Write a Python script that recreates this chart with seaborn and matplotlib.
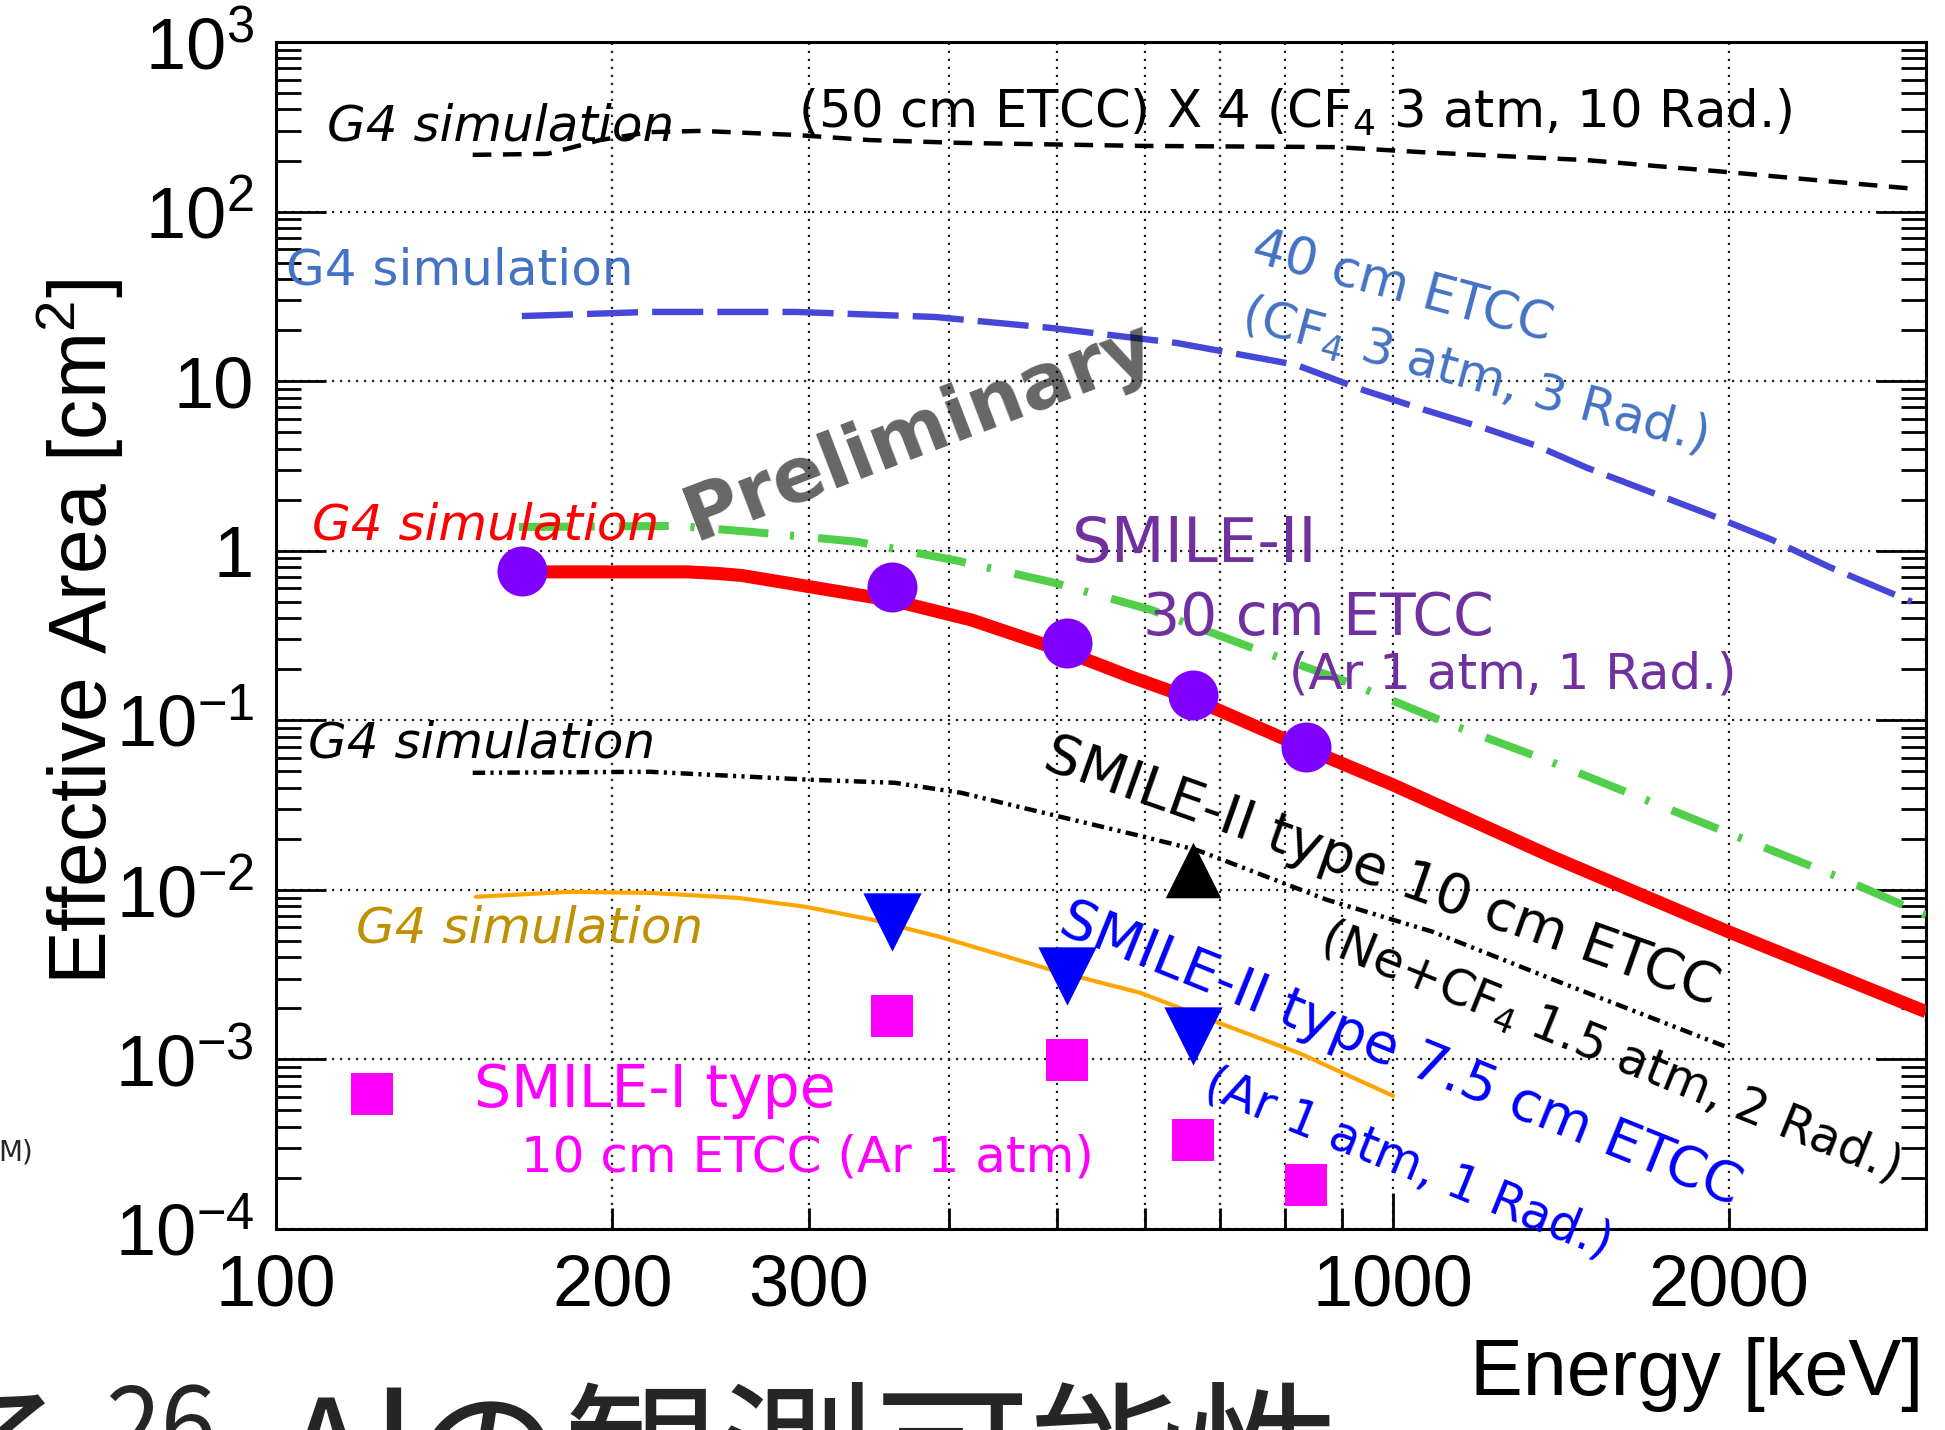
import matplotlib
matplotlib.use("Agg")
import matplotlib.pyplot as plt
import seaborn as sns
from matplotlib.ticker import FixedLocator, FixedFormatter, NullFormatter

# ---------------------------------------------------------------- data
# G4 simulation: (50 cm ETCC) x 4, CF4 3 atm, 10 radiation lengths
etcc50_energy = [150, 175, 195, 216, 240, 292, 340, 411, 594, 889, 1062, 1492, 1992, 2478, 2937]
etcc50_area = [216, 219, 264, 294, 299, 283, 264, 254, 244, 240, 224, 201, 171, 150, 136]

# G4 simulation: 40 cm ETCC, CF4 3 atm, 3 radiation lengths
etcc40_energy = [166, 216, 292, 389, 494, 640, 818, 940, 1068, 1214, 1345, 1492, 1709, 1922, 2184, 2460, 2912]
etcc40_area = [24.2, 25.6, 25.6, 23.9, 20.6, 16.8, 12.5, 8.87, 6.76, 5.22, 4.15, 3.08, 2.19, 1.63, 1.16, 0.80, 0.50]

# G4 simulation: 30 cm ETCC, improved tracking
smile2_30_best_energy = [165, 229, 267, 331, 405, 496, 606, 745, 915, 1119, 1374, 1683, 2056, 2505, 3000]
smile2_30_best_area = [1.38, 1.40, 1.29, 1.13, 0.88, 0.65, 0.45, 0.27, 0.166, 0.096, 0.058, 0.034, 0.020, 0.0119, 0.0071]

# G4 simulation: SMILE-II 30 cm ETCC (Ar 1 atm, 1 Rad.)
smile2_30_sim_energy = [166, 234, 248, 261, 301, 358, 419, 510, 583, 665, 834, 1000, 1387, 1998, 3000]
smile2_30_sim_area = [0.75, 0.75, 0.735, 0.715, 0.612, 0.506, 0.391, 0.253, 0.18, 0.132, 0.0687, 0.0416, 0.0157, 0.00565, 0.00191]

# G4 simulation: SMILE-II type 10 cm ETCC (Ne+CF4 1.5 atm, 2 Rad.)
smile2_10_sim_energy = [150, 216, 301, 358, 411, 463, 594, 667, 873, 1086, 1387, 1998]
smile2_10_sim_area = [0.049, 0.0497, 0.0446, 0.0428, 0.0373, 0.0308, 0.0208, 0.0172, 0.00873, 0.00565, 0.00298, 0.00117]

# G4 simulation: SMILE-II type 7.5 cm ETCC (Ar 1 atm, 1 Rad.)
smile2_75_sim_energy = [151, 183, 216, 259, 298, 342, 393, 494, 594, 713, 824, 1000]
smile2_75_sim_area = [0.0091, 0.00973, 0.0096, 0.00897, 0.00794, 0.00666, 0.00528, 0.00338, 0.00247, 0.00156, 0.00109, 0.00061]

# measured effective areas
smile2_30_energy = [166, 356, 511, 662, 835]
smile2_30_area = [0.76, 0.612, 0.286, 0.141, 0.0697]
smile2_10_energy = [662]
smile2_10_area = [0.0131]
smile2_75_energy = [356, 511, 662]
smile2_75_area = [0.00647, 0.00311, 0.00138]
smile1_energy = [122, 356, 511, 662, 835]
smile1_area = [0.000626, 0.00181, 0.000995, 0.000336, 0.000182]

# axis ticks
x_major = [100, 1000]
x_minor = [200, 300, 400, 500, 600, 700, 800, 900, 2000, 3000]
x_labelled = {100: "100", 200: "200", 300: "300", 1000: "1000", 2000: "2000"}
y_ticks = [1e-4, 1e-3, 1e-2, 1e-1, 1, 10, 1e2, 1e3]
y_labels = [r"$\mathdefault{10^{-4}}$", r"$\mathdefault{10^{-3}}$", r"$\mathdefault{10^{-2}}$",
            r"$\mathdefault{10^{-1}}$", "1", "10", r"$\mathdefault{10^{2}}$", r"$\mathdefault{10^{3}}$"]
y_minor = [m * 10.0 ** e for e in range(-4, 3) for m in range(2, 10)]

# ---------------------------------------------------------------- style
sns.set_theme(style="white")
plt.rcParams["font.family"] = ["DejaVu Sans"]
plt.rcParams["mathtext.fontset"] = "dejavusans"

W, H = 1945, 1430
fig = plt.figure(figsize=(W / 100, H / 100), dpi=100)
fig.patch.set_facecolor("white")
ax = fig.add_axes([276 / W, 1 - 1229 / H, 1650 / W, 1187 / H])
ax.set_facecolor("white")
ax.set_xscale("log")
ax.set_yscale("log")

# ---------------------------------------------------------------- curves
sns.lineplot(x=etcc50_energy, y=etcc50_area, ax=ax, color="black", linewidth=3.2,
             linestyle=(0, (4.2, 2.6)), zorder=3)
sns.lineplot(x=etcc40_energy, y=etcc40_area, ax=ax, color="#4646d8", linewidth=4.6,
             linestyle=(0, (8.0, 2.2)), zorder=3)
sns.lineplot(x=smile2_30_best_energy, y=smile2_30_best_area, ax=ax, color="#52cf4a", linewidth=5.8,
             linestyle=(0, (6.2, 2.7, 0.5, 3.0)), zorder=3)
sns.lineplot(x=smile2_10_sim_energy, y=smile2_10_sim_area, ax=ax, color="black", linewidth=3.2,
             linestyle=(0, (2.8, 1.2, 0.7, 1.2, 0.7, 1.2)), zorder=3)
sns.lineplot(x=smile2_75_sim_energy, y=smile2_75_sim_area, ax=ax, color="#ffa500", linewidth=3.0,
             zorder=3)
sns.lineplot(x=smile2_30_sim_energy, y=smile2_30_sim_area, ax=ax, color="#ff0000", linewidth=9.4,
             solid_capstyle="butt", solid_joinstyle="round", zorder=4)

# ---------------------------------------------------------------- measured points
sns.scatterplot(x=smile2_30_energy, y=smile2_30_area, ax=ax, marker="o", s=36 ** 2,
                color="#8000ff", linewidth=0, zorder=6)
sns.scatterplot(x=smile2_10_energy, y=smile2_10_area, ax=ax, marker="^", s=40 ** 2,
                color="black", linewidth=0, zorder=6)
sns.scatterplot(x=smile2_75_energy, y=smile2_75_area, ax=ax, marker="v", s=42 ** 2,
                color="#0000ff", linewidth=0, zorder=6)
sns.scatterplot(x=smile1_energy, y=smile1_area, ax=ax, marker="s", s=30 ** 2,
                color="#ff00ff", linewidth=0, zorder=6)

# ---------------------------------------------------------------- axes
ax.set_xlim(100, 3000)
ax.set_ylim(1e-4, 1e3)
ax.set_xlabel("")
ax.set_ylabel("")

ax.xaxis.set_major_locator(FixedLocator(x_major))
ax.xaxis.set_minor_locator(FixedLocator(x_minor))
ax.xaxis.set_major_formatter(FixedFormatter([x_labelled[v] for v in x_major]))
ax.xaxis.set_minor_formatter(FixedFormatter([x_labelled.get(v, "") for v in x_minor]))
ax.yaxis.set_major_locator(FixedLocator(y_ticks))
ax.yaxis.set_major_formatter(FixedFormatter(y_labels))
ax.yaxis.set_minor_locator(FixedLocator(y_minor))
ax.yaxis.set_minor_formatter(NullFormatter())

ax.tick_params(axis="both", which="both", direction="in", color="black",
               labelsize=52, labelfontfamily="Liberation Sans", labelcolor="black")
ax.tick_params(axis="y", which="major", length=36, width=2, left=True, right=True, pad=16)
ax.tick_params(axis="y", which="minor", length=18, width=2, left=True, right=True)
ax.tick_params(axis="x", which="major", length=26, width=2, bottom=True, top=False, pad=18)
ax.tick_params(axis="x", which="minor", length=15, width=2, bottom=True, top=False, pad=18)

grid_style = dict(color="#222222", linestyle=(0, (1, 2.6)), linewidth=1.6)
ax.grid(True, which="both", axis="x", **grid_style)
ax.grid(True, which="major", axis="y", **grid_style)
ax.set_axisbelow(True)
for side in ax.spines.values():
    side.set_color("black")
    side.set_linewidth(2.2)
    side.set_visible(True)

fig.text(1923 / W, 1 - 1395 / H, "Energy [keV]", ha="right", va="baseline",
         fontsize=57, fontfamily="Liberation Sans", color="black")
fig.text(107 / W, 1 - 279 / H, r"Effective Area [cm$^{\mathdefault{2}}$]", ha="right",
         va="baseline", rotation=90, rotation_mode="anchor",
         fontsize=58, fontfamily="Liberation Sans", color="black")


# ---------------------------------------------------------------- annotations
def note(x, y, s, size, color, rot=0.0, style="normal", weight="normal", alpha=1.0):
    ax.text(x, y, s, fontsize=size, color=color, rotation=rot, rotation_mode="anchor",
            ha="left", va="baseline", fontstyle=style, fontweight=weight, alpha=alpha,
            zorder=10, clip_on=False)


sub4 = r"$_{\mathdefault{4}}$"
note(111, 261, "G4 simulation", 36, "black", style="italic")
note(293, 311, "(50 cm ETCC) X 4 (CF" + sub4 + " 3 atm, 10 Rad.)", 37, "black")
note(102, 36.9, "G4 simulation", 36, "#4472c4")
note(743, 50.5, "40 cm ETCC", 37, "#4472c4", rot=-15)
note(728, 20.6, "(CF" + sub4 + " 3 atm, 3 Rad.)", 36, "#4472c4", rot=-15)
note(107.7, 1.158, "G4 simulation", 36, "#ff0000", style="italic")
note(516, 0.859, "SMILE-II", 45, "#7030a0")
note(597, 0.319, "30 cm ETCC", 42, "#7030a0")
note(807, 0.155, "(Ar 1 atm, 1 Rad.)", 36, "#7030a0")
note(106.8, 0.060, "G4 simulation", 36, "black", style="italic")
note(484, 0.0524, "SMILE-II type 10 cm ETCC", 40, "black", rot=-19.5)
note(855, 0.00443, "(Ne+CF" + sub4 + " 1.5 atm, 2 Rad.)", 35, "black", rot=-22)
note(118, 0.00488, "G4 simulation", 36, "#bf9000", style="italic")
note(500, 0.00565, "SMILE-II type 7.5 cm ETCC", 40, "#0000ff", rot=-22)
note(674, 0.000618, "(Ar 1 atm, 1 Rad.)", 35, "#0000ff", rot=-22)
note(150.4, 0.000526, "SMILE-I type", 42, "#ff00ff")
note(165.6, 0.000217, "10 cm ETCC (Ar 1 atm)", 36, "#ff00ff")
note(237, 1.158, "Preliminary", 55, "black", rot=21, weight="bold", alpha=0.6)

# ---------------------------------------------------------------- slide text around the chart
cjk = ["Noto Sans CJK JP", "DejaVu Sans"]
base = 1 - 1512 / H
fig.text(-72 / W, base, "る", fontsize=112, fontfamily=cjk, va="baseline")
fig.text(105 / W, 1 - 1460 / H, "26", fontsize=72, fontfamily=cjk, va="baseline")
fig.text(278 / W, base, "Al", fontsize=112, fontfamily=cjk, va="baseline")
fig.text(408 / W, base, "の観測可能性", fontsize=112, fontfamily=cjk, va="baseline")
fig.text(-2 / W, 1 - 1160 / H, "M)", fontsize=20, va="baseline")

fig.savefig("out.png", dpi=100, facecolor="white")
